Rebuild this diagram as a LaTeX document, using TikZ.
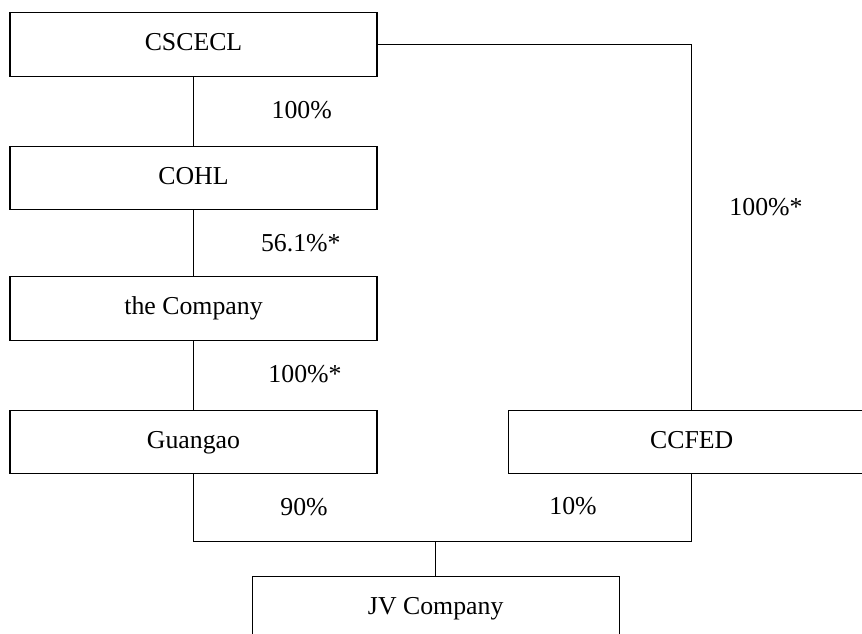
\documentclass[tikz,border=0pt]{standalone}
\usepackage{fontspec}
\setmainfont{Liberation Serif}
\usetikzlibrary{positioning, calc}

\begin{document}
\begin{tikzpicture}[x=0.5pt, y=-0.5pt, line width=0.55pt,
        ent/.style={draw, line width=0.55pt, inner sep=0pt, minimum width=183.5pt, minimum height=31.8pt, text height=1.44ex, text depth=0pt, align=center, font=\fontsize{12.9}{15}\selectfont},
        pct/.style={inner sep=0pt, font=\fontsize{12.9}{15}\selectfont}]
        \useasboundingbox (0,0) rectangle (862,633);
        \clip (0,0) rectangle (862,633);
        \node[ent] (cscecl) at (193.5,44.3) {CSCECL};
        \node[ent] (cohl) at (193.5,178) {COHL};
        \node[ent] (comp) at (193.5,308.3) {the Company};
        \node[ent] (guangao) at (193.5,442) {Guangao};
        \node[ent] (ccfed) at (691.7,442) {CCFED};
        \node[ent] (jv) at (435.7,608) {JV Company};
        \coordinate (bus) at (0,541.3);
        % shareholdings
        \node[pct] (p1) at (301.7,110) {100\%};
        \node[pct] (p2) at (300.8,242.7) {56.1\%*};
        \node[pct] (p3) at (305,374) {100\%*};
        \node[pct] (p4) at (304,506.7) {90\%};
        \node[pct] (p5) at (573,506.5) {10\%};
        \node[pct] (p6) at (766,207) {100\%*};
        \draw (cscecl) -- (cohl);
        \draw (cohl) -- (comp);
        \draw (comp) -- (guangao);
        \draw (cscecl.east) -| (ccfed.north);
        \draw (guangao.south) |- (bus -| ccfed.south) -- (ccfed.south);
        \draw (jv.north) -- (jv.north |- bus);
    \end{tikzpicture}
\end{document}
